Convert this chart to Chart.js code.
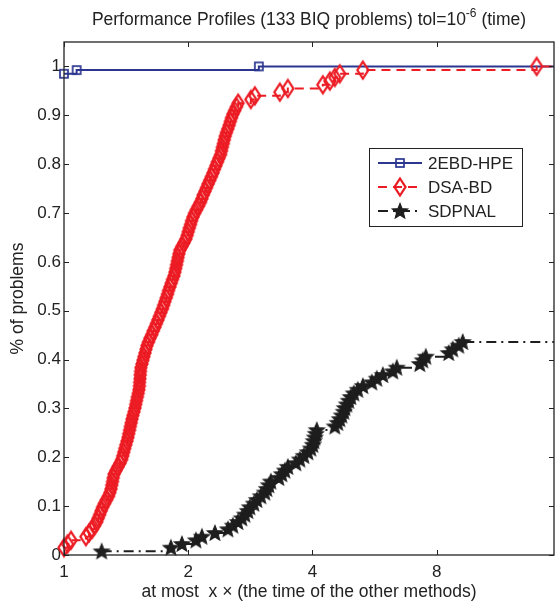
<!DOCTYPE html>
<html>
<head>
<meta charset="utf-8">
<script src="https://cdn.jsdelivr.net/npm/chart.js@4.4.1/dist/chart.umd.min.js"></script>
<style>
  html, body { margin: 0; padding: 0; background: #fff; overflow: hidden; }
  canvas { display: block; }
</style>
</head>
<body>
<canvas id="chartCanvas" width="561" height="605"></canvas>
<script>
// Performance profile data
const nProblems = 133;
const xTicks = [1, 2, 4, 8];
const yTicks = [0, 0.1, 0.2, 0.3, 0.4, 0.5, 0.6, 0.7, 0.8, 0.9, 1];
const xMax = 15.4;

// ratio at which each profile steps up by one problem
const hpeRatios = [1, 1.073, 2.966];
const hpeFirstCount = 131;

const dsaRatios = [
    1, 1.02, 1.04, 1.13, 1.15, 1.17, 1.185, 1.20, 1.21, 1.22,
    1.23, 1.24, 1.253, 1.267, 1.282, 1.292, 1.30, 1.305, 1.311, 1.316,
    1.322, 1.336, 1.351, 1.367, 1.380, 1.388, 1.396, 1.404, 1.412, 1.421,
    1.429, 1.435, 1.442, 1.448, 1.455, 1.461, 1.469, 1.478, 1.486, 1.492,
    1.499, 1.506, 1.513, 1.519, 1.523, 1.525, 1.528, 1.530, 1.533, 1.536,
    1.545, 1.553, 1.562, 1.571, 1.580, 1.589, 1.602, 1.615, 1.632, 1.645,
    1.661, 1.675, 1.689, 1.703, 1.717, 1.732, 1.744, 1.756, 1.769, 1.782,
    1.792, 1.806, 1.819, 1.832, 1.847, 1.857, 1.865, 1.874, 1.882, 1.890,
    1.899, 1.909, 1.931, 1.953, 1.974, 1.988, 2.000, 2.012, 2.026, 2.038,
    2.053, 2.071, 2.094, 2.117, 2.141, 2.159, 2.175, 2.196, 2.215, 2.235,
    2.255, 2.276, 2.296, 2.315, 2.334, 2.354, 2.374, 2.396, 2.408, 2.420,
    2.433, 2.445, 2.459, 2.476, 2.494, 2.513, 2.529, 2.546, 2.566, 2.592,
    2.617, 2.643, 2.837, 2.901, 3.335, 3.487, 4.239, 4.408, 4.532, 4.660,
    5.299, 13.98
];
const dsaFirstCount = 2;

const sdpRatios = [
    1.234, 1.816, 1.931, 2.088, 2.159, 2.321, 2.496, 2.566, 2.639, 2.698,
    2.744, 2.790, 2.821, 2.885, 2.934, 3.000, 3.067, 3.102, 3.137, 3.172,
    3.317, 3.373, 3.430, 3.487, 3.647, 3.729, 3.813, 3.900, 3.965, 4.009,
    4.031, 4.054, 4.077, 4.099, 4.532, 4.608, 4.660, 4.712, 4.765, 4.792,
    4.845, 4.900, 4.955, 5.038, 5.152, 5.299, 5.571, 5.728, 5.923, 6.263,
    6.404, 7.282, 7.405, 7.530, 8.559, 8.752, 9.050, 9.253
];
const sdpFirstCount = 1;

const blue = '#2b3690';
const red = '#ec1c24';
const black = '#1e1e1e';
const textColor = '#222';
const fontFamily = '"Liberation Sans", Arial, Helvetica, sans-serif';

// fraction of problems solved within each ratio, plus a tail out to the axis end
function profile(ratios, firstCount) {
    const pts = ratios.map((r, i) => ({ x: r, y: (firstCount + i) / nProblems }));
    pts.push({ x: xMax, y: pts[pts.length - 1].y });
    return pts;
}

function makeMarker(w, h, draw) {
    const c = document.createElement('canvas');
    c.width = w;
    c.height = h;
    draw(c.getContext('2d'), w, h);
    return c;
}

const squareMark = makeMarker(12, 12, function(g) {
    g.strokeStyle = blue;
    g.lineWidth = 1.7;
    g.strokeRect(2, 2, 8, 8);
});

const diamondMark = makeMarker(16, 22, function(g) {
    g.strokeStyle = red;
    g.lineWidth = 2.3;
    g.beginPath();
    g.moveTo(8, 2.5);
    g.lineTo(13.5, 11);
    g.lineTo(8, 19.5);
    g.lineTo(2.5, 11);
    g.closePath();
    g.stroke();
});

function starPath(g, cx, cy, ro, ri) {
    g.beginPath();
    for (let k = 0; k < 10; k++) {
        const r = k % 2 === 0 ? ro : ri;
        const a = -Math.PI / 2 + k * Math.PI / 5;
        const px = cx + r * Math.cos(a);
        const py = cy + r * Math.sin(a);
        if (k === 0) g.moveTo(px, py); else g.lineTo(px, py);
    }
    g.closePath();
}

const starMark = makeMarker(20, 20, function(g) {
    g.fillStyle = black;
    g.strokeStyle = black;
    g.lineWidth = 1.2;
    starPath(g, 10, 10.5, 8, 3.5);
    g.fill();
    g.stroke();
});

function markerRadius(ctx) {
    return ctx.dataIndex < ctx.dataset.data.length - 1 ? 5 : 0;
}

// axes box, inward ticks, titles and legend drawn MATLAB-style
const decorPlugin = {
    id: 'decor',
    afterDraw: function(chart) {
        const ctx = chart.ctx;
        const area = chart.chartArea;
        const xs = chart.scales.x;
        const ys = chart.scales.y;
        ctx.save();

        ctx.strokeStyle = '#222';
        ctx.lineWidth = 1.3;
        ctx.strokeRect(area.left, area.top, area.right - area.left, area.bottom - area.top);

        ctx.lineWidth = 1;
        ctx.beginPath();
        xTicks.forEach(function(v) {
            const px = Math.round(xs.getPixelForValue(v)) + 0.5;
            ctx.moveTo(px, area.bottom);
            ctx.lineTo(px, area.bottom - 5);
            ctx.moveTo(px, area.top);
            ctx.lineTo(px, area.top + 5);
        });
        yTicks.forEach(function(v) {
            const py = Math.round(ys.getPixelForValue(v)) + 0.5;
            ctx.moveTo(area.left, py);
            ctx.lineTo(area.left + 5, py);
            ctx.moveTo(area.right, py);
            ctx.lineTo(area.right - 5, py);
        });
        ctx.stroke();

        const cx = (area.left + area.right) / 2;

        // title with superscript exponent
        ctx.fillStyle = textColor;
        ctx.textBaseline = 'alphabetic';
        ctx.textAlign = 'left';
        const t1 = 'Performance Profiles (133 BIQ problems) tol=10';
        const t2 = '-6';
        const t3 = ' (time)';
        ctx.font = '17.5px ' + fontFamily;
        const w1 = ctx.measureText(t1).width;
        const w3 = ctx.measureText(t3).width;
        ctx.font = '12px ' + fontFamily;
        const w2 = ctx.measureText(t2).width;
        const tx = cx - (w1 + w2 + w3) / 2;
        const ty = 25;
        ctx.font = '17.5px ' + fontFamily;
        ctx.fillText(t1, tx, ty);
        ctx.font = '12px ' + fontFamily;
        ctx.fillText(t2, tx + w1, ty - 8);
        ctx.font = '17.5px ' + fontFamily;
        ctx.fillText(t3, tx + w1 + w2, ty);

        // axis titles
        ctx.textAlign = 'center';
        ctx.textBaseline = 'middle';
        ctx.font = '17.5px ' + fontFamily;
        ctx.fillText('at most  x \u00d7 (the time of the other methods)', cx, 592);
        ctx.save();
        ctx.translate(18, (area.top + area.bottom) / 2);
        ctx.rotate(-Math.PI / 2);
        ctx.fillText('% of problems', 0, 0);
        ctx.restore();

        // legend
        const lx = 369.5, ly = 148.5, lw = 153, lh = 78;
        ctx.fillStyle = '#fff';
        ctx.fillRect(lx, ly, lw, lh);
        ctx.strokeStyle = '#222';
        ctx.lineWidth = 1;
        ctx.strokeRect(lx, ly, lw, lh);
        const entries = [
            { label: '2EBD-HPE', color: blue, dash: [], mark: squareMark, y: 163 },
            { label: 'DSA-BD', color: red, dash: [9, 6], mark: diamondMark, y: 187 },
            { label: 'SDPNAL', color: black, dash: [10, 5, 2, 5], mark: starMark, y: 211 }
        ];
        entries.forEach(function(e) {
            ctx.strokeStyle = e.color;
            ctx.lineWidth = 2;
            ctx.setLineDash(e.dash);
            ctx.beginPath();
            ctx.moveTo(378, e.y);
            ctx.lineTo(422, e.y);
            ctx.stroke();
            ctx.setLineDash([]);
            ctx.drawImage(e.mark, 400 - e.mark.width / 2, e.y - e.mark.height / 2);
            ctx.fillStyle = textColor;
            ctx.textAlign = 'left';
            ctx.font = '17px ' + fontFamily;
            ctx.fillText(e.label, 428, e.y + 1);
        });

        ctx.restore();
    }
};

new Chart(document.getElementById('chartCanvas').getContext('2d'), {
    type: 'line',
    data: {
        datasets: [{
            label: '2EBD-HPE',
            data: profile(hpeRatios, hpeFirstCount),
            borderColor: blue,
            borderWidth: 2,
            stepped: 'before',
            pointStyle: squareMark,
            pointRadius: markerRadius,
            fill: false,
            clip: false,
            order: 3
        }, {
            label: 'DSA-BD',
            data: profile(dsaRatios, dsaFirstCount),
            borderColor: red,
            borderWidth: 2,
            borderDash: [9, 6],
            stepped: 'before',
            pointStyle: diamondMark,
            pointRadius: markerRadius,
            fill: false,
            clip: false,
            order: 2
        }, {
            label: 'SDPNAL',
            data: profile(sdpRatios, sdpFirstCount),
            borderColor: black,
            borderWidth: 2,
            borderDash: [10, 5, 2, 5],
            stepped: 'before',
            pointStyle: starMark,
            pointRadius: markerRadius,
            fill: false,
            clip: false,
            order: 1
        }]
    },
    options: {
        responsive: false,
        animation: false,
        layout: { padding: { top: 42, right: 1, bottom: 0, left: 0 } },
        plugins: {
            legend: { display: false },
            tooltip: { enabled: false },
            title: { display: false }
        },
        scales: {
            x: {
                type: 'logarithmic',
                min: 1,
                max: xMax,
                afterBuildTicks: function(s) { s.ticks = xTicks.map(v => ({ value: v })); },
                afterFit: function(s) { s.height = 50; s.paddingLeft = 0; s.paddingRight = 0; },
                grid: { display: false, drawTicks: false },
                border: { display: false },
                ticks: {
                    autoSkip: false,
                    maxRotation: 0,
                    padding: 7,
                    color: textColor,
                    font: { family: fontFamily, size: 17 },
                    callback: v => String(v)
                }
            },
            y: {
                type: 'linear',
                min: 0,
                max: 1.05,
                afterBuildTicks: function(s) { s.ticks = yTicks.map(v => ({ value: v })); },
                afterFit: function(s) { s.width = 64; s.paddingTop = 0; s.paddingBottom = 0; },
                grid: { display: false, drawTicks: false },
                border: { display: false },
                ticks: {
                    padding: 3,
                    color: textColor,
                    font: { family: fontFamily, size: 17 },
                    callback: v => String(Math.round(v * 10) / 10)
                }
            }
        }
    },
    plugins: [decorPlugin]
});
</script>
</body>
</html>
